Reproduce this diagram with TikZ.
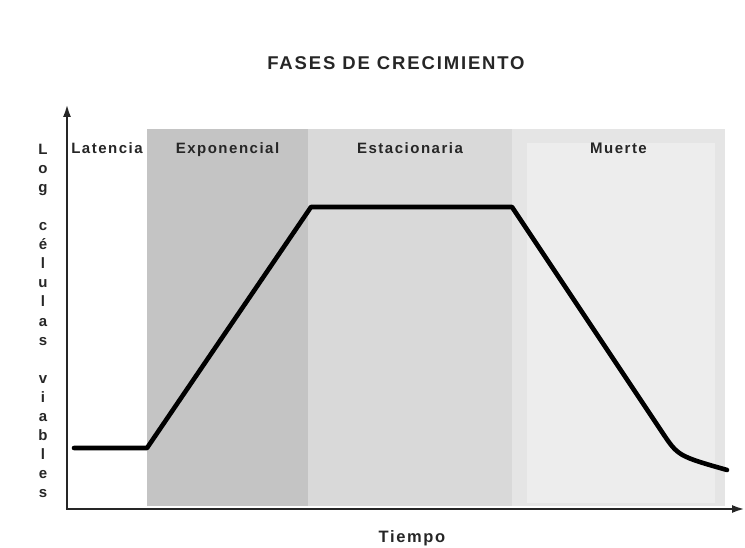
\documentclass[tikz,border=0pt]{standalone}
\usepackage{fontspec}
\setmainfont{Liberation Sans}
\newfontfamily\spacedfont[LetterSpace=10]{Liberation Sans}
\usetikzlibrary{arrows.meta}

\begin{document}
\begin{tikzpicture}[x=1pt, y=-1pt, font=\spacedfont\bfseries,
Axis/.style={line width=2.4pt, black!85, -{Latex[length=13pt,width=8pt]}},
Curve/.style={line width=4.6pt, line join=round, line cap=round},
PhaseLabel/.style={anchor=base, font=\spacedfont\bfseries\fontsize{15}{18}\selectfont, text=black!85}]
\useasboundingbox (0,0) rectangle (745,548);
\def\yTop{129}
\def\yBottom{506}
\def\yBase{509}
\foreach \name/\from/\to/\pct in {Latencia/67/147/0, Exponencial/147/308/23, Estacionaria/308/512/15, Muerte/512/725/10} {
  \fill [black!\pct] (\from, \yTop) rectangle (\to, \yBottom);
  \node [PhaseLabel] (\name) at ({(\from + \to)/2}, 153.5) {\name};
}
% lighter inner field of the last phase
\fill [black!7] (527, 143) rectangle (715, 503);
\node [PhaseLabel] at (Muerte.base) {Muerte};
\node [anchor=base, font=\spacedfont\bfseries\fontsize{18.5}{22}\selectfont, text=black!85] (title) at (396, 69.5) {FASES DE CRECIMIENTO};
\node [anchor=base, font=\spacedfont\bfseries\fontsize{16.5}{20}\selectfont, text=black!85] (xlabel) at (412, 542.5) {Tiempo};
\node [font=\spacedfont\bfseries\fontsize{15}{19.1}\selectfont, text=black!85, align=center, inner sep=0pt] (ylabel) at (43, 321)
  {L\\o\\g\\[19.1pt]c\\é\\l\\u\\l\\a\\s\\[19.1pt]v\\i\\a\\b\\l\\e\\s};
\coordinate (origin) at (67, \yBase);
\coordinate (yEnd) at (67, 104);
\coordinate (xEnd) at (745, \yBase);
\draw [Axis] (origin) -- (yEnd);
\draw [Axis] ([xshift=-1.2pt]origin) -- (xEnd);
% growth curve
\draw [Curve] (74, 448) -- (147, 448) -- (311, 207) -- (512, 207) -- (662, 432)
  .. controls (678, 456) .. (727, 470);
\end{tikzpicture}
\end{document}
